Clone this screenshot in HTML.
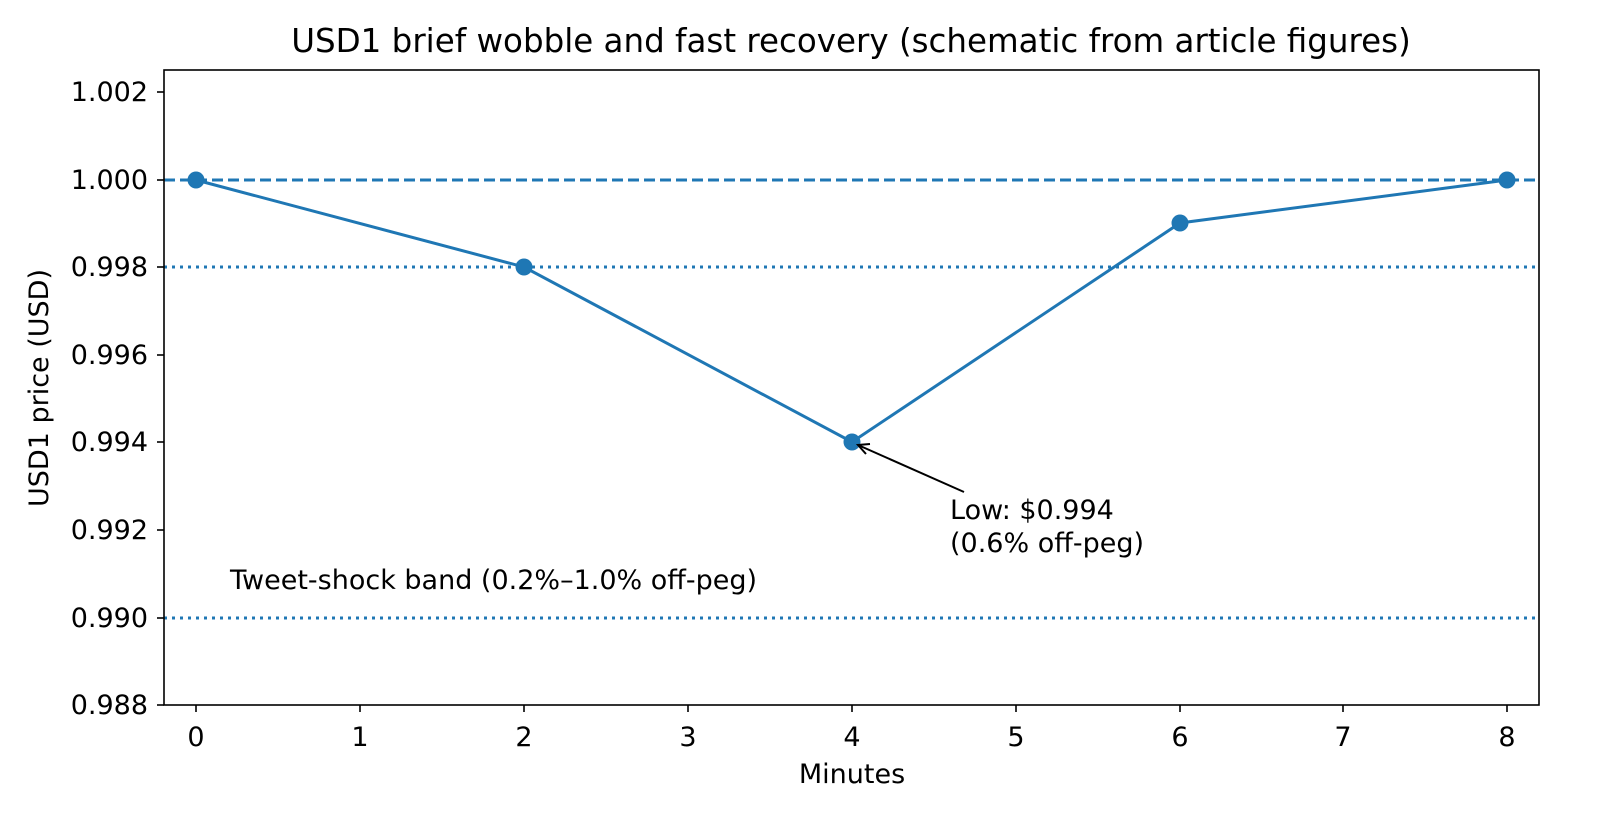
<!DOCTYPE html>
<html><head><meta charset="utf-8"><style>
body{margin:0;background:#fff;}
svg{display:block;font-family:"DejaVu Sans","Liberation Sans",sans-serif;}
</style></head><body>
<svg width="1598" height="836" viewBox="0 0 1598 836" xmlns="http://www.w3.org/2000/svg">
<rect width="1598" height="836" fill="#fff"/>
<text x="851" y="52" font-size="32.5" text-anchor="middle" fill="#000">USD1 brief wobble and fast recovery (schematic from article figures)</text>
<line x1="164" y1="180" x2="1539" y2="180" stroke="#1f77b4" stroke-width="3" stroke-dasharray="11,5"/>
<line x1="164" y1="267" x2="1539" y2="267" stroke="#1f77b4" stroke-width="3" stroke-dasharray="3,5"/>
<line x1="164" y1="618" x2="1539" y2="618" stroke="#1f77b4" stroke-width="3" stroke-dasharray="3,5"/>
<polyline points="196,180 524,267 852,442 1180,223 1507,180" fill="none" stroke="#1f77b4" stroke-width="3"/>
<g fill="#1f77b4">
<circle cx="196" cy="180" r="8.5"/><circle cx="524" cy="267" r="8.5"/><circle cx="852" cy="442" r="8.5"/><circle cx="1180" cy="223" r="8.5"/><circle cx="1507" cy="180" r="8.5"/>
</g>
<line x1="964" y1="492" x2="858" y2="445" stroke="#000" stroke-width="2"/>
<polyline points="870,444 858,445 866,454" fill="none" stroke="#000" stroke-width="2"/>
<text x="950" y="519" font-size="27">Low: $0.994</text>
<text x="950" y="552" font-size="27">(0.6% off-peg)</text>
<text x="230" y="589" font-size="27">Tweet-shock band (0.2%–1.0% off-peg)</text>
<rect x="164" y="70" width="1375" height="635" fill="none" stroke="#000" stroke-width="1.6"/>
<g stroke="#000" stroke-width="1.6">
<line x1="196" y1="705" x2="196" y2="712"/><line x1="360" y1="705" x2="360" y2="712"/><line x1="524" y1="705" x2="524" y2="712"/><line x1="688" y1="705" x2="688" y2="712"/><line x1="852" y1="705" x2="852" y2="712"/><line x1="1016" y1="705" x2="1016" y2="712"/><line x1="1180" y1="705" x2="1180" y2="712"/><line x1="1343" y1="705" x2="1343" y2="712"/><line x1="1507" y1="705" x2="1507" y2="712"/>
<line x1="157" y1="92" x2="164" y2="92"/><line x1="157" y1="180" x2="164" y2="180"/><line x1="157" y1="267" x2="164" y2="267"/><line x1="157" y1="355" x2="164" y2="355"/><line x1="157" y1="442" x2="164" y2="442"/><line x1="157" y1="530" x2="164" y2="530"/><line x1="157" y1="618" x2="164" y2="618"/><line x1="157" y1="705" x2="164" y2="705"/>
</g>
<g font-size="27" text-anchor="middle">
<text x="196" y="746">0</text><text x="360" y="746">1</text><text x="524" y="746">2</text><text x="688" y="746">3</text><text x="852" y="746">4</text><text x="1016" y="746">5</text><text x="1180" y="746">6</text><text x="1343" y="746">7</text><text x="1507" y="746">8</text>
</g>
<g font-size="27" text-anchor="end">
<text x="148" y="101">1.002</text><text x="148" y="189">1.000</text><text x="148" y="276">0.998</text><text x="148" y="364">0.996</text><text x="148" y="451">0.994</text><text x="148" y="539">0.992</text><text x="148" y="627">0.990</text><text x="148" y="714">0.988</text>
</g>
<text x="852" y="783" font-size="27" text-anchor="middle">Minutes</text>
<text transform="translate(48,388) rotate(-90)" font-size="27" text-anchor="middle">USD1 price (USD)</text>
</svg>
</body></html>
